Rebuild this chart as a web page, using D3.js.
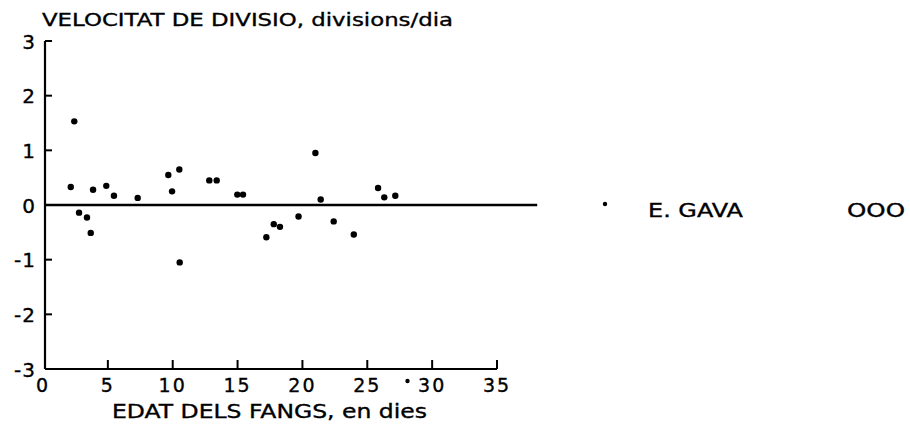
<!DOCTYPE html>
<html>
<head>
<meta charset="utf-8">
<script src="https://cdnjs.cloudflare.com/ajax/libs/d3/7.8.5/d3.min.js"></script>
<style>
body { margin: 0; background: #fff; }
text { font-family: "DejaVu Sans", sans-serif; fill: #000; stroke: #000; stroke-width: 0.35px; }
</style>
</head>
<body>
<div id="chart"></div>
<script>
// edat (dies) i velocitat de divisio (divisions/dia), E. GAVA
var edat = [2.14, 2.41, 2.78, 3.39, 3.68, 3.86, 4.88, 5.47, 7.30, 9.66,
	9.95, 10.51, 10.54, 12.82, 13.39, 14.98, 15.42, 17.22, 17.79, 18.27,
	19.70, 21.00, 21.41, 22.41, 23.96, 25.83, 26.31, 27.16, 28.10];
var velocitat = [0.33, 1.53, -0.14, -0.23, -0.51, 0.28, 0.35, 0.17, 0.13, 0.55,
	0.25, 0.65, -1.05, 0.45, 0.45, 0.19, 0.19, -0.59, -0.35, -0.40,
	-0.21, 0.95, 0.10, -0.30, -0.54, 0.31, 0.14, 0.17, -3.22];
var xTicks = [0, 5, 10, 15, 20, 25, 30, 35];
var yTicks = [3, 2, 1, 0, -1, -2, -3];
var titol = "VELOCITAT DE DIVISIO, divisions/dia";
var titolX = "EDAT DELS FANGS, en dies";
var llegenda = ["E. GAVA", "OOO"];

var width = 910, height = 445;

var svg = d3.select("#chart").append("svg")
	.attr("width", width)
	.attr("height", height);

var x = d3.scaleLinear().domain([0, 35]).range([43, 497]);
var y = d3.scaleLinear().domain([-3, 3]).range([369, 41]);

/* eix Y */
svg.append("line")
	.attr("x1", 45).attr("x2", 45)
	.attr("y1", y(3)).attr("y2", y(-3))
	.style("stroke", "#000").style("stroke-width", 2.2);

svg.selectAll(".ytick").data(yTicks).enter().append("line")
	.attr("x1", 45).attr("x2", 52)
	.attr("y1", function(d) { return y(d); })
	.attr("y2", function(d) { return y(d); })
	.style("stroke", "#000").style("stroke-width", 2);

svg.selectAll(".ylab").data(yTicks).enter().append("text")
	.attr("x", 36)
	.attr("y", function(d) { return y(d) + 7.5; })
	.attr("text-anchor", "end")
	.style("font-size", "20px")
	.style("letter-spacing", "1px")
	.text(function(d) { return d; });

/* eix X */
svg.append("line")
	.attr("x1", 45).attr("x2", x(35))
	.attr("y1", y(-3)).attr("y2", y(-3))
	.style("stroke", "#000").style("stroke-width", 2.2);

svg.selectAll(".xtick").data(xTicks.slice(1)).enter().append("line")
	.attr("x1", function(d) { return x(d); })
	.attr("x2", function(d) { return x(d); })
	.attr("y1", y(-3)).attr("y2", y(-3) - 9)
	.style("stroke", "#000").style("stroke-width", 2);

svg.selectAll(".xlab").data(xTicks).enter().append("text")
	.attr("x", function(d) { return x(d); })
	.attr("y", 392)
	.attr("text-anchor", "middle")
	.style("font-size", "19px")
	.style("letter-spacing", "2px")
	.text(function(d) { return d; });

/* linia de zero */
svg.append("line")
	.attr("x1", 45).attr("x2", x(38.1))
	.attr("y1", y(0)).attr("y2", y(0))
	.style("stroke", "#000").style("stroke-width", 2.6);

/* titols */
svg.append("text")
	.attr("x", 42).attr("y", 26)
	.attr("textLength", 411)
	.attr("lengthAdjust", "spacingAndGlyphs")
	.style("font-size", "18px")
	.text(titol);

svg.append("text")
	.attr("x", 112).attr("y", 418)
	.attr("textLength", 315)
	.attr("lengthAdjust", "spacingAndGlyphs")
	.style("font-size", "19px")
	.text(titolX);

/* punts */
svg.selectAll(".punt").data(edat).enter().append("circle")
	.attr("cx", function(d) { return x(d); })
	.attr("cy", function(d, i) { return y(velocitat[i]); })
	.attr("r", function(d, i) { return velocitat[i] < -3 ? 2.2 : 3.2; })
	.style("fill", "#000");

/* llegenda */
svg.append("circle")
	.attr("cx", 605).attr("cy", 204).attr("r", 2.2)
	.style("fill", "#000");

svg.append("text")
	.attr("x", 648).attr("y", 217)
	.attr("textLength", 95)
	.attr("lengthAdjust", "spacingAndGlyphs")
	.style("font-size", "19px")
	.text(llegenda[0]);

svg.append("text")
	.attr("x", 847).attr("y", 217)
	.attr("textLength", 58)
	.attr("lengthAdjust", "spacingAndGlyphs")
	.style("font-size", "19px")
	.text(llegenda[1]);
</script>
</body>
</html>
